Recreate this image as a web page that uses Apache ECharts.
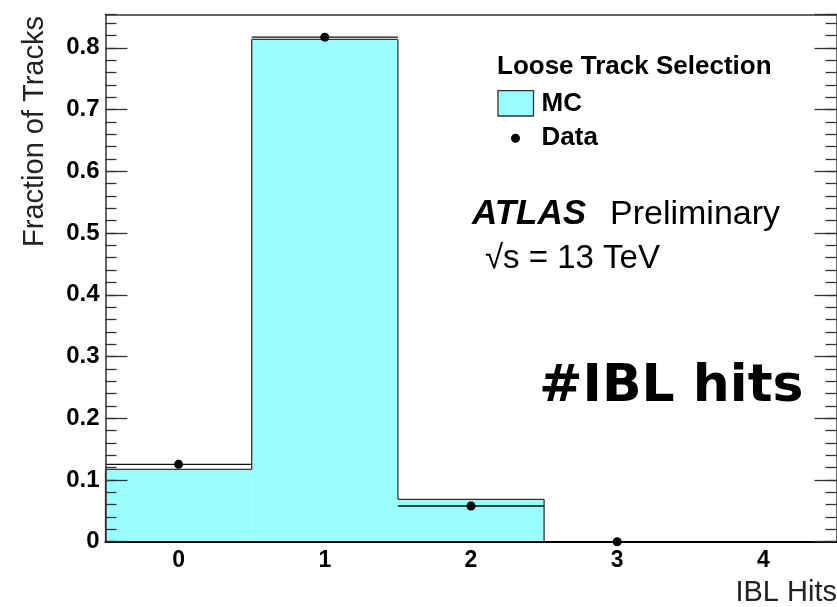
<!DOCTYPE html>
<html><head><meta charset="utf-8">
<script src="https://cdn.jsdelivr.net/npm/echarts@6/dist/echarts.min.js"></script>
<style>html,body{margin:0;padding:0;background:#fff}#c{width:837px;height:607px}</style>
</head><body><div id="c"></div>
<script>
const categories = ['0', '1', '2', '3', '4'];
const mcValues = [0.117, 0.8136, 0.0687, 0, 0];
const dataValues = [0.1253, 0.8173, 0.0578, 0, null];
const yMax = 0.854;
const yMajorInterval = 0.1;
const yMinorInterval = 0.02;

const FONT = '"Liberation Sans", Arial, Helvetica, sans-serif';
const FILL = '#99ffff';
const chart = echarts.init(document.getElementById('c'), null, { renderer: 'canvas' });

function mcRender(params, api) {
  const i = params.dataIndex;
  const v = api.value(1);
  const band = api.size([1, 0])[0];
  const c = api.coord([i, v]);
  const base = api.coord([i, 0]);
  const x0 = c[0] - band / 2, x1 = c[0] + band / 2;
  const prev = i > 0 ? mcValues[i - 1] : 0;
  const pPrev = api.coord([i, prev]);
  const children = [];
  if (v > 0) children.push({ type: 'rect', shape: { x: x0, y: c[1], width: band, height: base[1] - c[1] }, style: { fill: FILL }, z2: 1 });
  children.push({ type: 'line', shape: { x1: x0, y1: c[1], x2: x1, y2: c[1] }, style: { stroke: '#333', lineWidth: 1.3 }, z2: 2 });
  children.push({ type: 'line', shape: { x1: x0, y1: pPrev[1], x2: x0, y2: c[1] }, style: { stroke: '#333', lineWidth: 1.3 }, z2: 2 });
  return { type: 'group', children };
}

function dataRender(params, api) {
  const v = api.value(1);
  if (v === null || v === undefined || isNaN(v)) return null;
  const i = params.dataIndex;
  const band = api.size([1, 0])[0];
  const c = api.coord([i, v]);
  return {
    type: 'group', children: [
      { type: 'line', shape: { x1: c[0] - band / 2, y1: c[1], x2: c[0] + band / 2, y2: c[1] }, style: { stroke: '#111', lineWidth: 1.3 }, z2: 3 },
      { type: 'circle', shape: { cx: c[0], cy: c[1], r: 4.5 }, style: { fill: '#000' }, z2: 4 }
    ]
  };
}

const tickStyle = { color: '#333', width: 1.3 };
function yAx(position, interval, len, showLabel, showLine) {
  return {
    type: 'value', min: 0, max: yMax, interval: interval, position: position, z: 10,
    axisLine: { show: showLine, onZero: false, lineStyle: { color: '#333', width: 1.5 } },
    axisTick: { show: true, inside: true, length: len, lineStyle: tickStyle },
    axisLabel: {
      show: showLabel, showMaxLabel: false, fontFamily: FONT, fontWeight: 'bold', fontSize: 24, color: '#000', margin: 6,
      formatter: function (val) { return Math.abs(val - yMax) < 1e-6 ? '' : (val === 0 ? '0' : val.toFixed(1)); }
    },
    splitLine: { show: false }
  };
}

const option = {
  animation: false,
  backgroundColor: '#fff',
  grid: { left: 105.5, top: 14.5, width: 731, height: 527.2, outerBoundsMode: 'none', containLabel: false },
  xAxis: [
    {
      type: 'category', data: categories, position: 'bottom', boundaryGap: true, z: 10,
      axisLine: { onZero: false, lineStyle: { color: '#000', width: 2 } },
      axisTick: { alignWithLabel: true, inside: true, length: 16, lineStyle: tickStyle },
      axisLabel: { fontFamily: FONT, fontWeight: 'bold', fontSize: 23, color: '#000', margin: 7 },
      splitLine: { show: false }
    },
    {
      type: 'category', data: categories, position: 'top', boundaryGap: true, z: 10,
      axisLine: { onZero: false, lineStyle: { color: '#333', width: 1.5 } },
      axisTick: { alignWithLabel: true, inside: true, length: 16, lineStyle: tickStyle },
      axisLabel: { show: false }, splitLine: { show: false }
    }
  ],
  yAxis: [
    yAx('left', yMajorInterval, 22, true, true),
    yAx('left', yMinorInterval, 11, false, false),
    yAx('right', yMajorInterval, 22, false, true),
    yAx('right', yMinorInterval, 11, false, false)
  ],
  series: [
    {
      type: 'custom', name: 'MC', renderItem: mcRender, xAxisIndex: 0, yAxisIndex: 0,
      data: mcValues.map((v, i) => [i, v]), encode: { x: 0, y: 1 }, z: 2
    },
    {
      type: 'custom', name: 'Data', renderItem: dataRender, xAxisIndex: 0, yAxisIndex: 0,
      data: dataValues.map((v, i) => [i, v === null ? '-' : v]), encode: { x: 0, y: 1 }, z: 3
    }
  ],
  graphic: [
    { type: 'text', x: 35, y: 131.5, rotation: Math.PI / 2, style: { text: 'Fraction of Tracks', font: '29px ' + FONT, fill: '#222', align: 'center', verticalAlign: 'middle' } },
    { type: 'text', x: 837, y: 593, style: { text: 'IBL Hits', font: '29px ' + FONT, fill: '#222', align: 'right', verticalAlign: 'middle' } },
    { type: 'text', x: 497, y: 67, style: { text: 'Loose Track Selection', font: 'bold 26px ' + FONT, fill: '#000', align: 'left', verticalAlign: 'middle' } },
    { type: 'rect', shape: { x: 498, y: 90.7, width: 35.5, height: 25.3 }, style: { fill: FILL, stroke: '#333', lineWidth: 1.3 } },
    { type: 'text', x: 541.5, y: 103.5, style: { text: 'MC', font: 'bold 26px ' + FONT, fill: '#000', align: 'left', verticalAlign: 'middle' } },
    { type: 'circle', shape: { cx: 515.5, cy: 138.3, r: 4.5 }, style: { fill: '#000' } },
    { type: 'text', x: 541.5, y: 138, style: { text: 'Data', font: 'bold 26px ' + FONT, fill: '#000', align: 'left', verticalAlign: 'middle' } },
    { type: 'text', x: 472, y: 214.5, style: { text: 'ATLAS', font: 'italic bold 35px ' + FONT, fill: '#000', align: 'left', verticalAlign: 'middle' } },
    { type: 'text', x: 610, y: 214.5, style: { text: 'Preliminary', font: '34px ' + FONT, fill: '#000', align: 'left', verticalAlign: 'middle' } },
    { type: 'text', x: 485, y: 259, style: { text: '\u221As = 13 TeV', font: '33px ' + FONT, fill: '#000', align: 'left', verticalAlign: 'middle' } },
    { type: 'text', x: 539, y: 387, style: { text: '#IBL hits', font: 'bold 52px "DejaVu Sans", sans-serif', fill: '#000', align: 'left', verticalAlign: 'middle' } }
  ]
};
chart.setOption(option);
</script>
</body></html>
